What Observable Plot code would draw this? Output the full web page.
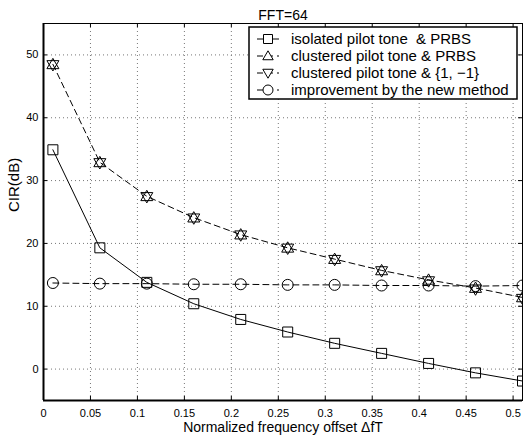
<!DOCTYPE html>
<html>
<head>
<meta charset="utf-8">
<script src="https://cdn.jsdelivr.net/npm/d3@7"></script>
<script src="https://cdn.jsdelivr.net/npm/@observablehq/plot@0.6"></script>
<style>
  html, body { margin: 0; padding: 0; background: #fff; }
  svg { font-family: "Liberation Sans", Arial, sans-serif; }
</style>
</head>
<body>
<div id="chart"></div>
<script>
// ---- data ----
const offsets = [0.01, 0.06, 0.11, 0.16, 0.21, 0.26, 0.31, 0.36, 0.41, 0.46, 0.51];
const isolatedPRBS = [34.9, 19.3, 13.8, 10.4, 7.9, 5.9, 4.1, 2.5, 0.9, -0.6, -1.9];
const clusteredPRBS = [48.5, 32.9, 27.5, 24.1, 21.4, 19.3, 17.5, 15.7, 14.2, 12.9, 11.4];
const clusteredPM1 = [48.4, 32.8, 27.4, 24.0, 21.3, 19.2, 17.4, 15.6, 14.0, 12.7, 11.2];
const improvement = [13.7, 13.6, 13.6, 13.5, 13.5, 13.4, 13.4, 13.3, 13.3, 13.2, 13.3];
const seriesNames = [
  "isolated pilot tone  & PRBS",
  "clustered pilot tone & PRBS",
  "clustered pilot tone & {1, \u22121}",
  "improvement by the new method"
];
const xTicks = [0, 0.05, 0.1, 0.15, 0.2, 0.25, 0.3, 0.35, 0.4, 0.45, 0.5];
const yTicks = [0, 10, 20, 30, 40, 50];
const titleText = "FFT=64";
const xLabel = "Normalized frequency offset \u0394fT";
const yLabel = "CIR(dB)";

// ---- MATLAB-like marker symbols ----
const sym = {
  square: {draw(c, size) { const r = Math.sqrt(size / Math.PI); c.moveTo(-r, -r); c.lineTo(r, -r); c.lineTo(r, r); c.lineTo(-r, r); c.closePath(); }},
  up: {draw(c, size) { const r = Math.sqrt(size / Math.PI); c.moveTo(0, -r); c.lineTo(r, r * 0.72); c.lineTo(-r, r * 0.72); c.closePath(); }},
  down: {draw(c, size) { const r = Math.sqrt(size / Math.PI); c.moveTo(0, r); c.lineTo(r, -r * 0.72); c.lineTo(-r, -r * 0.72); c.closePath(); }},
  circle: {draw(c, size) { const r = Math.sqrt(size / Math.PI); c.moveTo(r, 0); c.arc(0, 0, r, 0, 2 * Math.PI); }}
};

const mk = (ys) => offsets.map((x, i) => ({x, y: ys[i]}));
const s1 = mk(isolatedPRBS), s2 = mk(clusteredPRBS), s3 = mk(clusteredPM1), s4 = mk(improvement);

const W = 523, H = 439, mL = 43, mR = 1, mT = 23, mB = 39;
const plotH = H - mT - mB, plotW = W - mL - mR;

const fmt = d => String(+d.toFixed(2));

const chart = Plot.plot({
  width: W, height: H,
  marginLeft: mL, marginRight: mR, marginTop: mT, marginBottom: mB,
  style: {fontFamily: "'Liberation Sans', Arial, sans-serif", fontSize: "11px", color: "#000", background: "#fff"},
  x: {domain: [0, 0.51], label: null},
  y: {domain: [-5, 55], label: null},
  marks: [
    Plot.gridX(xTicks, {stroke: "#777", strokeOpacity: 1, strokeDasharray: "1,3"}),
    Plot.gridY(yTicks, {stroke: "#777", strokeOpacity: 1, strokeDasharray: "1,3"}),
    // inward ticks
    Plot.ruleX(xTicks, {insetTop: plotH - 4, stroke: "#000"}),
    Plot.ruleX(xTicks, {insetBottom: plotH - 4, stroke: "#000"}),
    Plot.ruleY(yTicks, {insetRight: plotW - 4, stroke: "#000"}),
    Plot.ruleY(yTicks, {insetLeft: plotW - 4, stroke: "#000"}),
    Plot.frame({stroke: "#000", strokeWidth: 1}),
    Plot.ruleX([0], {stroke: "#000", strokeWidth: 2}),
    Plot.ruleY([-5], {stroke: "#000", strokeWidth: 2}),
    Plot.axisX(xTicks, {tickSize: 0, tickPadding: 9, tickFormat: fmt, fontSize: 11, label: null}),
    Plot.axisY(yTicks, {tickSize: 0, tickPadding: 5, tickFormat: fmt, fontSize: 11, label: null}),
    // series
    Plot.line(s1, {x: "x", y: "y", stroke: "#000", strokeWidth: 1}),
    Plot.line(s2, {x: "x", y: "y", stroke: "#000", strokeWidth: 1, strokeDasharray: "6,4"}),
    Plot.line(s4, {x: "x", y: "y", stroke: "#000", strokeWidth: 1, strokeDasharray: "6,4"}),
    Plot.dot(s1, {x: "x", y: "y", symbol: sym.square, r: 5, stroke: "#000", strokeWidth: 1, fill: "none"}),
    Plot.dot(s2, {x: "x", y: "y", symbol: sym.up, r: 6, stroke: "#000", strokeWidth: 1, fill: "none"}),
    Plot.dot(s3, {x: "x", y: "y", symbol: sym.down, r: 6, stroke: "#000", strokeWidth: 1, fill: "none"}),
    Plot.dot(s4, {x: "x", y: "y", symbol: sym.circle, r: 5.5, stroke: "#000", strokeWidth: 1, fill: "none"}),
    Plot.text([titleText], {frameAnchor: "top", dy: -13, fontSize: 14, fill: "#000"}),
    Plot.text([xLabel], {frameAnchor: "bottom", dy: 31, fontSize: 14, fill: "#000"}),
    Plot.text([yLabel], {frameAnchor: "left", dx: -29, rotate: -90, fontSize: 15, fill: "#000"})
  ]
});
document.getElementById("chart").appendChild(chart);

// ---- legend (MATLAB style box inside the axes) ----
const svg = d3.select(chart);
const lg = svg.append("g").attr("font-family", "'Liberation Sans', Arial, sans-serif")
  .attr("font-size", 15).attr("text-anchor", "start");
const bx = 249, by = 27, bw = 268, bh = 72;
lg.append("rect").attr("x", bx).attr("y", by).attr("width", bw).attr("height", bh)
  .attr("fill", "#fff").attr("stroke", "#000").attr("stroke-width", 1.5);
const syms = [sym.square, sym.up, sym.down, sym.circle];
const rs = [4.5, 5.2, 5.2, 5];
const dashes = [null, "6,4", "6,4", "6,4"];
seriesNames.forEach((name, i) => {
  const cy = by + 12 + i * 17;
  lg.append("line").attr("x1", bx + 8).attr("x2", bx + 30).attr("y1", cy).attr("y2", cy)
    .attr("stroke", "#000").attr("stroke-width", 1)
    .attr("stroke-dasharray", dashes[i]);
  lg.append("path").attr("transform", `translate(${bx + 19},${cy})`)
    .attr("d", d3.symbol(syms[i], Math.PI * rs[i] * rs[i])())
    .attr("fill", "#fff").attr("stroke", "#000").attr("stroke-width", 1);
  lg.append("text").attr("x", bx + 42).attr("y", cy).attr("dy", "0.36em")
    .attr("text-anchor", "start")
    .style("white-space", "pre").attr("fill", "#000").text(name);
});
</script>
</body>
</html>
